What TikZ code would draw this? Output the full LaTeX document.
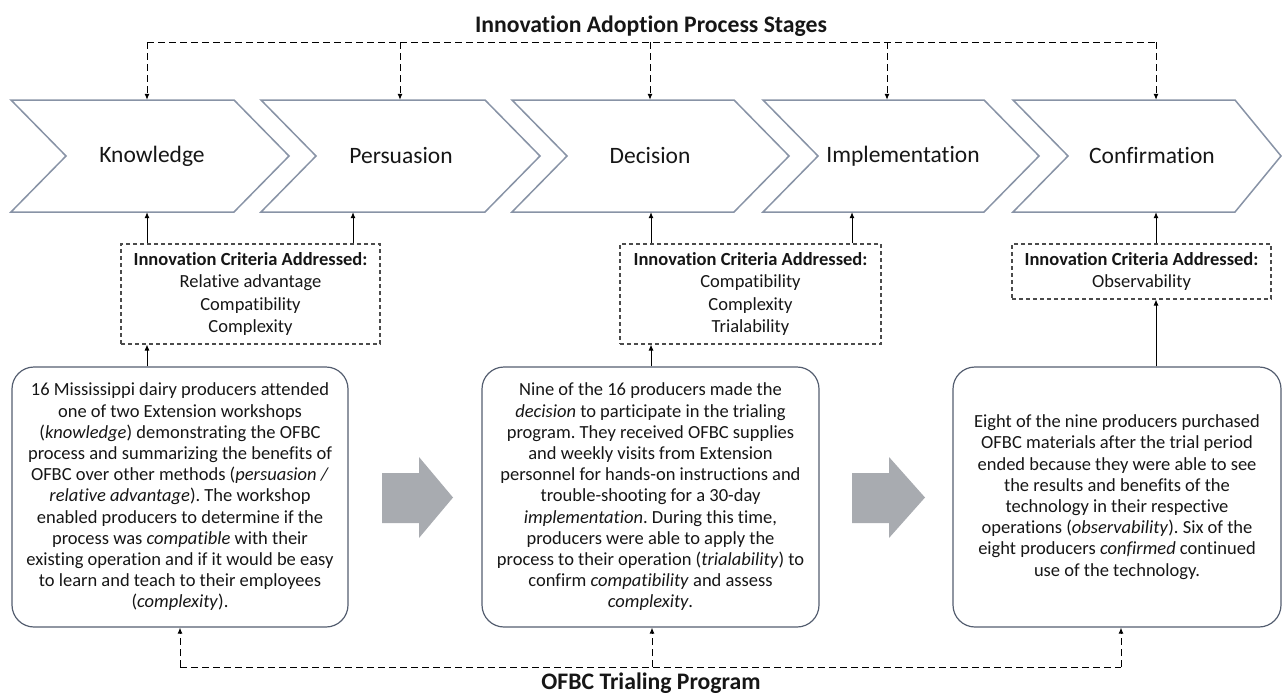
\documentclass[tikz,border=0pt]{standalone}
\usepackage{fontspec}
\setmainfont{Carlito}[Ligatures=NoCommon]
\usetikzlibrary{arrows.meta}
\frenchspacing

\definecolor{ink}{RGB}{22,22,22}
\definecolor{chevline}{RGB}{136,147,166}
\definecolor{boxline}{RGB}{84,94,112}
\definecolor{critline}{RGB}{75,75,75}
\definecolor{bigarrow}{RGB}{168,171,176}

\tikzset{
  chev/.style={draw=chevline, line width=1.5pt, line join=miter},
  stage/.style={inner sep=0pt, minimum height=112pt, text=ink,
    font=\fontsize{23.5}{28}\selectfont},
  crit/.style={draw=critline, line width=1.1pt, dash pattern=on 4pt off 3pt,
    align=center, inner sep=0pt, text=ink,
    font=\fontsize{18.5}{22.5}\selectfont},
  story/.style={draw=boxline, line width=1.2pt, rounded corners=22pt,
    align=center, inner sep=0pt, text=ink,
    font=\fontsize{18.5}{21.2}\selectfont},
  heading/.style={inner sep=0pt, text=ink, font=\bfseries\fontsize{23.7}{28}\selectfont},
  link/.style={-{Latex[length=6pt,width=5pt]}, line width=0.9pt, draw=black},
  dashline/.style={line width=1pt, draw=black, dash pattern=on 7pt off 4pt},
  dlink/.style={dashline, -{Latex[length=6pt,width=5pt]}},
  bigarr/.style={fill=bigarrow, draw=none},
}

% chevron: left x, top-right x, tip x (notch depth 55)
\newcommand\stagechevron[3]{%
  \draw[chev] (#1,100) -- (#2,100) -- (#3,156) -- (#2,212) -- (#1,212) -- (#1+55,156) -- cycle;}

\begin{document}
\begin{tikzpicture}[x=1pt,y=-1pt]
\useasboundingbox (0,0) rectangle (1282,696);
\clip (0,0) rectangle (1282,696);

% ---- title and stage chevrons
\node[heading, anchor=base] (title) at (651,32) {Innovation Adoption Process Stages};

\stagechevron{11}{234}{289}
\stagechevron{261}{485}{540}
\stagechevron{512}{734}{789}
\stagechevron{763}{984}{1039}
\stagechevron{1013}{1235}{1281}

\node[stage] (know) at (152,156) {Knowledge};
\node[stage] (pers) at (401,156) {Persuasion};
\node[stage] (deci) at (650,156) {Decision};
\node[stage] (impl) at (903,156) {Implementation};
\node[stage] (conf) at (1152,156) {Confirmation};

% ---- dashed feed from the stage heading
\coordinate (ta) at (147,42);
\coordinate (tb) at (400,42);
\coordinate (tc) at (650,42);
\coordinate (td) at (887,42);
\coordinate (te) at (1156,42);
\draw[dashline] (ta) -- (te);
\draw[dlink] (ta) -- (ta |- know.north);
\draw[dlink] (tb) -- (tb |- pers.north);
\draw[dlink] (tc) -- (tc |- deci.north);
\draw[dlink] (td) -- (td |- impl.north);
\draw[dlink] (te) -- (te |- conf.north);

% ---- innovation criteria boxes
\node[crit, minimum width=259pt, minimum height=100pt] (critA) at (250.5,294)
  {\textbf{Innovation Criteria Addressed:}\\Relative advantage\\Compatibility\\Complexity};
\node[crit, minimum width=261pt, minimum height=100pt] (critB) at (750.5,294)
  {\textbf{Innovation Criteria Addressed:}\\Compatibility\\Complexity\\Trialability};
\node[crit, minimum width=259pt, minimum height=55pt] (critC) at (1141.5,271.5)
  {\textbf{Innovation Criteria Addressed:}\\Observability};

\draw[link] ([xshift=-5]know.south |- critA.north) -- ([xshift=-5]know.south);
\draw[link] ([xshift=-48]pers.south |- critA.north) -- ([xshift=-48]pers.south);
\draw[link] ([xshift=1]deci.south |- critB.north) -- ([xshift=1]deci.south);
\draw[link] ([xshift=-51]impl.south |- critB.north) -- ([xshift=-51]impl.south);
\draw[link] ([xshift=4]conf.south |- critC.north) -- ([xshift=4]conf.south);

% ---- trialing program boxes
\node[story, minimum width=336pt, minimum height=260pt] (storyA) at (180,497)
  {16 Mississippi dairy producers attended\\
   one of two Extension workshops\\
   (\textit{knowledge}) demonstrating the OFBC\\
   process and summarizing the benefits of\\
   OFBC over other methods (\textit{persuasion /}\\
   \textit{relative advantage}). The workshop\\
   enabled producers to determine if the\\
   process was \textit{compatible} with their\\
   existing operation and if it would be easy\\
   to learn and teach to their employees\\
   (\textit{complexity}).};
\node[story, minimum width=337pt, minimum height=260pt] (storyB) at (650.5,497)
  {Nine of the 16 producers made the\\
   \textit{decision} to participate in the trialing\\
   program. They received OFBC supplies\\
   and weekly visits from Extension\\
   personnel for hands-on instructions and\\
   trouble-shooting for a 30-day\\
   \textit{implementation}. During this time,\\
   producers were able to apply the\\
   process to their operation (\textit{trialability}) to\\
   confirm \textit{compatibility} and assess\\
   \textit{complexity}.};
\node[story, minimum width=328pt, minimum height=260pt] (storyC) at (1117,497)
  {Eight of the nine producers purchased\\
   OFBC materials after the trial period\\
   ended because they were able to see\\
   the results and benefits of the\\
   technology in their respective\\
   operations (\textit{observability}). Six of the\\
   eight producers \textit{confirmed} continued\\
   use of the technology.};

\draw[link] ([xshift=-33]storyA.north) -- ([xshift=-33]storyA.north |- critA.south);
\draw[link] ([xshift=0.5]storyB.north) -- ([xshift=0.5]storyB.north |- critB.south);
\draw[link] ([xshift=39]storyC.north) -- ([xshift=39]storyC.north |- critC.south);

% ---- block arrows between the program steps
\fill[bigarr] (382,473) -- (419,473) -- (419,457) -- (453,497.5) -- (419,538) -- (419,523) -- (382,523) -- cycle;
\fill[bigarr] (852,473) -- (889,473) -- (889,457) -- (925,497.5) -- (889,538) -- (889,523) -- (852,523) -- cycle;

% ---- dashed feed to the trialing program label
\node[heading, anchor=base] (prog) at (651,689) {OFBC Trialing Program};
\coordinate (ba) at (180,667);
\coordinate (bb) at (652,667);
\coordinate (bc) at (1121,667);
\draw[dashline] (ba) -- (bc);
\draw[dlink] (ba) -- (ba |- storyA.south);
\draw[dlink] (bb) -- (bb |- storyB.south);
\draw[dlink] (bc) -- (bc |- storyC.south);
\end{tikzpicture}
\end{document}
